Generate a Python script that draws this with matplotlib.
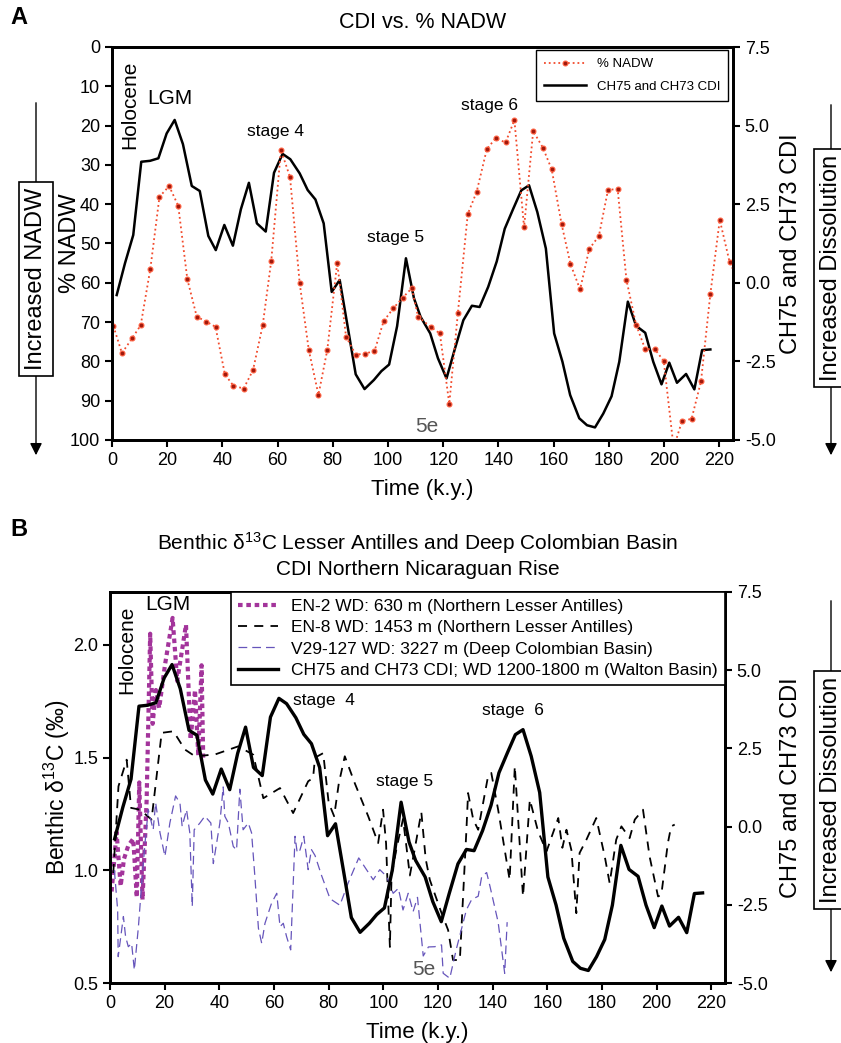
import numpy as np
import matplotlib
matplotlib.use("Agg")
import matplotlib.pyplot as plt
from matplotlib.patches import FancyArrowPatch

plt.rcParams['font.family'] = ['Liberation Sans', 'DejaVu Sans']
plt.rcParams['mathtext.fontset'] = 'custom'
plt.rcParams['mathtext.rm'] = 'Liberation Sans'
plt.rcParams['mathtext.it'] = 'Liberation Sans:italic'
plt.rcParams['axes.unicode_minus'] = False

# ---- panel A: % NADW (left, inverted) ----
nadw_t = [0.5, 3.6, 7.3, 10.4, 13.9, 17.2, 20.7, 24.0, 27.3, 30.7, 34.2, 37.5, 40.9,
          44.0, 47.7, 51.1, 54.6, 57.7, 61.2, 64.5, 68.0, 71.3, 74.8, 78.0, 81.6,
          84.8, 88.3, 91.6, 95.1, 98.4, 101.9, 105.3, 108.6, 110.9, 115.4, 118.8,
          122.2, 125.3, 128.9, 132.1, 135.8, 139.0, 142.6, 145.8, 149.3, 152.6,
          156.1, 159.3, 162.9, 166.1, 169.6, 172.9, 176.4, 179.7, 183.2, 186.4,
          189.9, 193.2, 196.7, 199.9, 203.5, 206.5, 210.0, 213.4, 216.8, 220.2,
          223.8, 226.0]
nadw = [71.0, 77.9, 74.1, 70.8, 56.4, 38.1, 35.4, 40.4, 59.1, 68.6, 69.9, 71.2, 83.3,
        86.2, 86.9, 82.2, 70.8, 54.4, 26.2, 33.1, 60.1, 77.1, 88.5, 77.1, 54.9,
        73.7, 78.3, 78.0, 77.4, 69.8, 66.5, 63.8, 61.4, 68.6, 71.2, 72.9,
        90.8, 67.8, 42.5, 36.9, 26.0, 23.2, 24.3, 18.6, 45.9, 21.4,
        25.6, 31.1, 45.1, 55.2, 61.7, 51.4, 48.1, 36.4, 36.1, 59.3,
        70.7, 76.9, 76.9, 79.9, 102.0, 95.2, 94.6, 85.1, 62.8, 44.0,
        54.8, 58.0]

# ---- CDI (CH75 and CH73), same record in both panels ----
cdi_t = [1.7, 4.7, 7.7, 10.6, 13.8, 16.8, 19.8, 22.7, 25.7, 28.9, 31.8, 34.9, 37.6,
         40.7, 43.8, 46.7, 49.6, 52.5, 55.7, 58.7, 61.8, 64.6, 68.0, 70.9, 73.7,
         76.7, 79.6, 82.5, 85.4, 88.3, 91.5, 94.9, 97.6, 100.4, 103.3, 106.5,
         109.4, 111.8, 115.3, 118.1, 121.2, 124.1, 127.3, 130.4, 133.2, 136.3,
         139.4, 142.3, 145.4, 148.3, 151.1, 154.1, 157.2, 160.2, 163.2, 166.0,
         169.3, 172.1, 175.0, 178.0, 181.0, 183.8, 186.9, 189.9, 193.2, 196.1,
         199.1, 201.9, 204.7, 208.0, 211.0, 213.8, 216.8]
cdi = [-0.39, 0.62, 1.52, 3.85, 3.88, 3.96, 4.75, 5.18, 4.41, 3.08, 2.92, 1.49, 1.04,
       1.84, 1.18, 2.34, 3.18, 1.89, 1.63, 3.50, 4.10, 3.93, 3.48, 2.95, 2.65,
       1.89, -0.29, 0.09, -1.40, -2.91, -3.38, -3.09, -2.81, -2.60, -1.38, 0.78,
       -0.49, -1.08, -1.61, -2.40, -3.04, -2.14, -1.19, -0.73, -0.77, -0.13,
       0.68, 1.72, 2.36, 2.94, 3.10, 2.25, 1.09, -1.61, -2.51, -3.57,
       -4.31, -4.53, -4.60, -4.16, -3.61, -2.51, -0.60, -1.37, -1.59, -2.51,
       -3.23, -2.54, -3.18, -2.90, -3.39, -2.14, -2.12]

# ---- panel B: benthic d13C ----
en2_t = [0.6, 2.4, 3.9, 5.1, 6.7, 8.5, 9.8, 10.7, 11.9, 13.4, 14.7, 15.6, 16.8,
         18.0, 20.1, 22.9, 24.6, 27.8, 29.5, 31.1, 32.3, 33.5, 34.1]
en2 = [0.906, 1.17, 0.93, 1.05, 1.11, 1.14, 0.88, 1.39, 0.87, 1.31, 2.05, 1.65, 1.80,
       1.72, 1.91, 2.12, 1.84, 2.09, 1.58, 1.80, 1.51, 1.91, 1.50]

en8_t = [1.2, 3.1, 6.1, 7.7, 11.0, 15.2, 18.9, 23.2, 27.4, 31.1, 38.4, 46.9, 52.4,
         56.1, 62.2, 67.0, 72.5, 74.3, 75.0, 78.0, 80.0, 82.0, 83.7, 85.9, 89.6,
         94.5, 98.1, 99.9, 101.0, 102.4, 103.0, 104.8, 107.2, 108.5, 109.7, 111.5,
         113.9, 115.5, 117.0, 121.0, 123.7, 125.5, 128.0, 130.4, 131.0, 132.9,
         134.7, 138.3, 139.5, 142.0, 146.2, 148.1, 151.1, 153.6, 156.6, 159.7,
         164.0, 165.5, 167.0, 168.8, 170.6, 171.8, 174.3, 177.9, 181.0, 182.8,
         185.2, 187.1, 190.1, 192.0, 195.0, 197.4, 200.5, 201.7, 204.1, 205.3, 206.6]
en8 = [0.988, 1.373, 1.491, 1.277, 1.269, 1.225, 1.610, 1.617, 1.536, 1.506, 1.514,
       1.55, 1.513, 1.320, 1.365, 1.254, 1.395, 1.41, 1.50, 1.52, 1.30, 1.24, 1.385,
       1.506, 1.385, 1.239, 1.121, 1.269, 1.12, 0.66, 0.977, 1.095, 1.228, 1.10,
       0.977, 1.095, 1.258, 1.05, 0.958, 0.82, 0.735, 0.602, 0.602, 1.18, 1.343,
       1.225, 1.18, 1.417, 1.432, 1.269, 0.958, 1.462, 0.884, 1.314, 1.173, 1.084,
       1.232, 1.10, 1.18, 1.09, 0.81, 1.077, 1.136, 1.232, 1.062, 0.943, 1.136,
       1.195, 1.143, 1.225, 1.269, 1.062, 0.884, 0.891, 1.121, 1.195, 1.203]

v29_t = [1.6, 2.8, 3.0, 4.9, 5.7, 6.7, 7.9, 8.9, 10.4, 11.6, 12.8, 14.0, 15.8, 16.7,
         18.3, 20.1, 21.9, 24.0, 25.6, 26.4, 28.0, 29.2, 30.1, 30.8, 32.9, 34.7,
         36.9, 37.8, 40.2, 41.4, 42.0, 43.3, 45.1, 46.3, 47.5, 48.7, 50.6, 51.8,
         53.0, 54.3, 55.5, 56.7, 59.1, 61.0, 62.2, 63.4, 64.6, 66.1, 67.7, 68.5,
         69.5, 70.9, 72.5, 73.7, 75.0, 77.4, 80.5, 84.1, 87.1, 91.0, 96.3, 98.7,
         101.2, 103.6, 105.5, 107.2, 109.1, 110.9, 112.5, 113.3, 114.6, 116.5,
         118.8, 121.3, 121.9, 124.3, 126.7, 130.4, 132.3, 134.7, 136.0, 137.8,
         139.0, 142.0, 144.4, 145.3]
v29 = [1.00, 0.824, 0.617, 0.795, 0.706, 0.661, 0.676, 0.558, 0.750, 0.943, 1.12,
       1.269, 1.18, 1.30, 1.166, 1.062, 1.21, 1.33, 1.298, 1.195, 1.269, 1.166, 0.84,
       1.18, 1.21, 1.24, 1.21, 1.03, 1.21, 1.37, 1.24, 1.21, 1.106, 1.09, 1.36, 1.18,
       1.21, 1.166, 0.973, 0.743, 0.676, 0.765, 0.854, 0.898, 0.750, 0.765, 0.706,
       0.647, 1.151, 1.077, 1.09, 1.151, 1.003, 1.092, 1.066, 0.977, 0.874, 0.845,
       0.943, 1.055, 0.958, 1.003, 0.973, 0.898, 0.92, 0.824, 0.898, 0.817, 0.88,
       0.78, 0.62, 0.66, 0.661, 0.669, 0.543, 0.521, 0.65, 0.825, 0.87, 0.885,
       0.973, 0.99, 0.93, 0.77, 0.543, 0.77]

W, H = 841, 1043
fig = plt.figure(figsize=(W / 100, H / 100), dpi=100)


def box(l, r, t, b):
    return [l / W, 1 - b / H, (r - l) / W, (b - t) / H]


def style(ax):
    for s in ax.spines.values():
        s.set_linewidth(2)
    ax.tick_params(direction='out', length=5, width=1.5, labelsize=13)


red = '#f24a2c'

# ================= panel A =================
axA = fig.add_axes(box(112, 733, 47, 440))
axA2 = axA.twinx()
axA.set_zorder(axA2.get_zorder() + 1)
axA.patch.set_visible(False)
lnad, = axA.plot(nadw_t, nadw, ls=':', color=red, lw=1.3, marker='o', ms=3.5,
                 mfc='#a0180c', mec='#ff6040', mew=0.8)
lcdi, = axA2.plot(cdi_t, cdi, color='k', lw=1.8)
axA.set_xlim(0, 225)
axA.set_ylim(100, 0)
axA.set_yticks(range(0, 101, 10))
axA.set_xticks(range(0, 221, 20))
axA2.set_ylim(-5, 7.5)
axA2.set_yticks(np.arange(-5, 7.6, 2.5))
axA2.set_yticklabels(['%.1f' % v for v in np.arange(-5, 7.6, 2.5)])
style(axA)
style(axA2)
axA.set_xlabel('Time (k.y.)', fontsize=16, labelpad=7)
axA.set_ylabel('% NADW', fontsize=17)
axA.yaxis.set_label_coords(-0.05, 0.5)
axA2.set_ylabel('CH75 and CH73 CDI', fontsize=17)
axA2.yaxis.set_label_coords(1.075, 0.5)
axA.set_title('CDI vs. % NADW', fontsize=15.5, pad=14)
leg = axA.legend([lnad, lcdi], ['% NADW', 'CH75 and CH73 CDI'], loc='upper right',
                 bbox_to_anchor=(0.992, 0.992), fontsize=9.5, handlelength=3.2,
                 fancybox=False, framealpha=1, edgecolor='k', borderaxespad=0,
                 labelspacing=0.8, borderpad=0.6)
leg.get_frame().set_linewidth(1.0)

axA.text(6.5, 14.8, 'Holocene', rotation=90, ha='center', va='center', fontsize=15)
axA.text(21.0, 13.2, 'LGM', ha='center', va='center', fontsize=15)
axA.text(59.3, 21.6, 'stage 4', ha='center', va='center', fontsize=12.5)
axA.text(102.7, 48.6, 'stage 5', ha='center', va='center', fontsize=12.5)
axA.text(136.7, 14.9, 'stage 6', ha='center', va='center', fontsize=12.5)
axA.text(114.2, 96.6, '5e', ha='center', va='center', fontsize=15, color='#555555')

# ================= panel B =================
axB = fig.add_axes(box(110, 725, 592, 983))
axB2 = axB.twinx()
l2, = axB.plot(en2_t, en2, color='#a3349b', lw=3, ls=(0, (1.1, 0.9)))
l8, = axB.plot(en8_t, en8, color='k', lw=1.3, ls=(0, (5, 4)))
l29, = axB.plot(v29_t, v29, color='#6655bb', lw=0.9, ls=(0, (7, 4)))
lc, = axB2.plot(cdi_t, cdi, color='k', lw=2.4)
axB.set_xlim(0, 225)
axB.set_ylim(0.5, 2.235)
axB.set_yticks([0.5, 1.0, 1.5, 2.0])
axB.set_xticks(range(0, 221, 20))
axB2.set_ylim(-5, 7.5)
axB2.set_yticks(np.arange(-5, 7.6, 2.5))
axB2.set_yticklabels(['%.1f' % v for v in np.arange(-5, 7.6, 2.5)])
style(axB)
style(axB2)
axB.set_xlabel('Time (k.y.)', fontsize=16, labelpad=7)
axB.set_ylabel('Benthic δ$^{13}$C (‰)', fontsize=16.5)
axB.yaxis.set_label_coords(-0.062, 0.5)
axB2.set_ylabel('CH75 and CH73 CDI', fontsize=17)
axB2.yaxis.set_label_coords(1.089, 0.5)
axB.set_title('Benthic δ$^{13}$C Lesser Antilles and Deep Colombian Basin\n'
              'CDI Northern Nicaraguan Rise', fontsize=15, pad=12, linespacing=1.3)
legB = axB2.legend([l2, l8, l29, lc],
                   ['EN-2 WD: 630 m (Northern Lesser Antilles)',
                    'EN-8 WD: 1453 m (Northern Lesser Antilles)',
                    'V29-127 WD: 3227 m (Deep Colombian Basin)',
                    'CH75 and CH73 CDI; WD 1200-1800 m (Walton Basin)'],
                   loc='upper right', bbox_to_anchor=(1, 1), borderaxespad=0,
                   fontsize=12.5, handlelength=2.3, labelspacing=0.35,
                   fancybox=False, framealpha=1, edgecolor='k', borderpad=0.4)
legB.get_frame().set_linewidth(1.2)

axB.text(6.0, 1.978, 'Holocene', rotation=90, ha='center', va='center', fontsize=15)
axB.text(21.0, 2.18, 'LGM', ha='center', va='center', fontsize=15)
axB.text(78.1, 1.753, 'stage  4', ha='center', va='center', fontsize=12.5)
axB.text(107.9, 1.396, 'stage 5', ha='center', va='center', fontsize=12.5)
axB.text(147.3, 1.707, 'stage  6', ha='center', va='center', fontsize=12.5)
axB.text(114.8, 0.558, '5e', ha='center', va='center', fontsize=15, color='#555555')

# ---- panel letters and side arrows ----
fig.text(10 / W, 1 - 18 / H, 'A', fontsize=17, fontweight='bold', va='center')
fig.text(10 / W, 1 - 530 / H, 'B', fontsize=17, fontweight='bold', va='center')


def side_arrow(x, y_top, y_bot, y_mid, label):
    fig.add_artist(FancyArrowPatch((x / W, 1 - y_top / H), (x / W, 1 - y_bot / H),
                                   transform=fig.transFigure, arrowstyle='-|>',
                                   mutation_scale=18, lw=1, color='k'))
    fig.text(x / W, 1 - y_mid / H, label, rotation=90, ha='center', va='center',
             fontsize=17, bbox=dict(boxstyle='square,pad=0.25', fc='white',
                                    ec='k', lw=1.2))


side_arrow(36, 100, 458, 279, 'Increased NADW')
side_arrow(831, 102, 458, 268, 'Increased Dissolution')
side_arrow(831, 598, 975, 790, 'Increased Dissolution')

fig.savefig('out.png', dpi=100)
